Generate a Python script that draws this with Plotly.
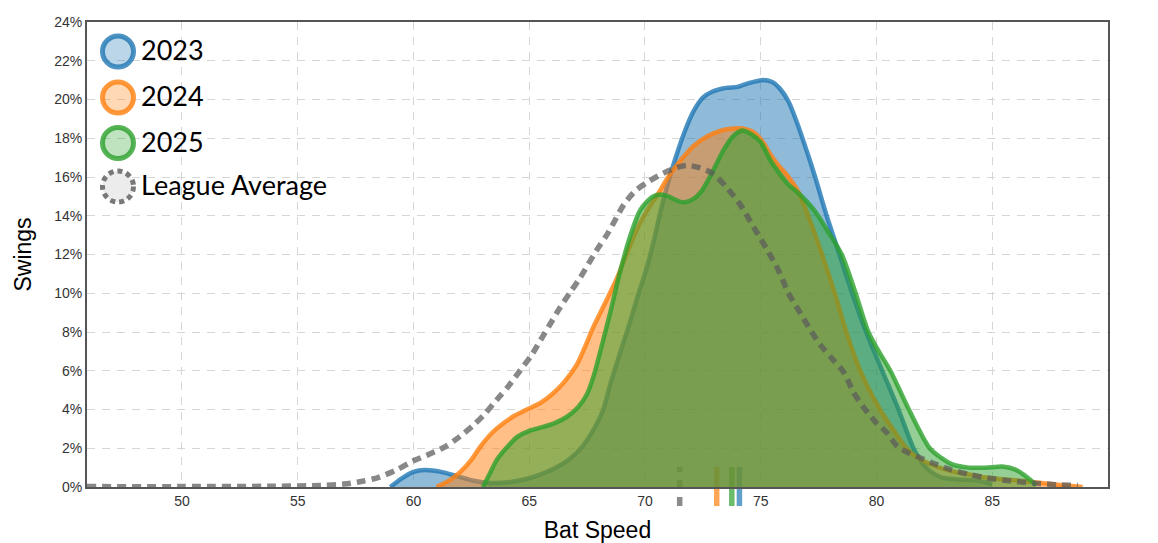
import plotly.graph_objects as go

# ---------------- data ----------------
series_names = ["2023", "2024", "2025"]
league_name = "League Average"

bat_speed_2023 = [59.0, 59.5, 60.0, 60.5, 61.2, 61.9, 62.6, 63.2, 64.2, 65.0, 65.6, 66.3, 66.8, 67.3,
                  67.75, 68.2, 68.5, 69.0, 69.35, 69.7, 70.1, 70.4, 70.65, 70.95, 71.3, 71.7, 72.1,
                  72.5, 72.9, 73.5, 74.0, 74.5, 75.05, 75.5, 75.8, 76.2, 76.6, 77.0, 77.35, 77.85,
                  78.4, 78.95, 79.55, 80.25, 80.95, 81.6, 82.0, 82.4, 82.8, 83.4, 84.0, 84.5, 85.0]
swings_2023 = [0.0, 0.45, 0.78, 0.88, 0.78, 0.55, 0.32, 0.22, 0.26, 0.45, 0.7, 1.1, 1.5, 2.1,
               2.9, 4.0, 5.3, 7.2, 8.5, 9.9, 11.4, 12.8, 14.1, 15.5, 16.9, 18.3, 19.4,
               20.1, 20.4, 20.6, 20.65, 20.85, 21.0, 20.9, 20.6, 19.9, 18.7, 17.3, 16.0, 14.0,
               12.0, 10.0, 8.0, 6.0, 4.0, 2.0, 1.2, 0.75, 0.5, 0.4, 0.36, 0.3, 0.15]

bat_speed_2024 = [61.0, 61.5, 62.0, 62.5, 62.9, 63.4, 63.9, 64.4, 64.9, 65.5, 66.0, 66.5, 67.05, 67.4,
                  67.75, 68.2, 68.8, 69.2, 69.65, 70.1, 70.6, 71.0, 71.5, 72.1, 72.7, 73.3, 73.8,
                  74.2, 74.7, 75.1, 75.4, 75.7, 76.2, 76.6, 77.05, 77.65, 78.2, 78.7, 79.3, 80.15,
                  80.7, 81.3, 81.8, 82.4, 83.0, 84.0, 85.0, 86.0, 86.8, 87.8, 88.9]
swings_2024 = [0.0, 0.3, 0.75, 1.4, 2.1, 2.8, 3.3, 3.7, 4.0, 4.35, 4.8, 5.4, 6.3, 7.2,
               8.2, 9.3, 10.8, 12.0, 13.3, 14.3, 15.2, 16.0, 16.8, 17.6, 18.1, 18.4, 18.5,
               18.5, 18.3, 17.8, 17.2, 16.7, 16.0, 15.3, 14.0, 12.0, 10.0, 8.0, 6.0, 4.0,
               3.0, 2.0, 1.5, 1.15, 0.9, 0.65, 0.45, 0.35, 0.25, 0.12, 0.0]

bat_speed_2025 = [63.0, 63.3, 63.6, 64.0, 64.5, 65.0, 65.6, 66.1, 66.6, 67.1, 67.5, 67.8, 68.2, 68.5,
                  68.9, 69.35, 69.8, 70.35, 70.7, 71.0, 71.6, 72.0, 72.4, 72.8, 73.4, 73.8, 74.2,
                  74.6, 75.0, 75.4, 75.8, 76.2, 76.6, 77.3, 77.9, 78.5, 79.1, 79.65, 80.1, 80.6,
                  81.4, 82.3, 82.8, 83.3, 84.0, 84.7, 85.5, 86.0, 86.4, 86.9]
swings_2025 = [0.0, 0.7, 1.4, 2.0, 2.6, 2.9, 3.1, 3.3, 3.6, 4.1, 4.8, 5.8, 7.6, 9.0,
               11.0, 12.9, 14.3, 15.0, 15.1, 15.0, 14.7, 14.8, 15.2, 16.0, 17.4, 18.1, 18.4,
               18.2, 17.8, 16.9, 16.2, 15.6, 15.2, 14.3, 13.2, 12.0, 10.0, 8.0, 7.0, 6.0,
               4.0, 2.0, 1.5, 1.15, 1.0, 1.0, 1.05, 0.9, 0.6, 0.1]

bat_speed_league = [45.9, 50.0, 54.0, 56.0, 57.0, 57.8, 58.5, 59.3, 60.0, 60.7, 61.4, 62.0, 62.6, 63.1,
                    63.6, 64.1, 64.6, 65.1, 65.5, 65.9, 66.3, 66.8, 67.2, 67.9, 68.4, 69.1, 69.6,
                    70.2, 70.8, 71.4, 71.8, 72.3, 72.9, 73.5, 74.1, 74.7, 75.3, 75.8, 76.2, 76.7,
                    77.2, 77.6, 78.1, 78.6, 79.0, 79.45, 80.0, 80.45, 80.9, 81.4, 81.9, 82.5, 83.2,
                    84.0, 84.6, 85.5, 86.8, 87.8, 88.7]
swings_league = [0.02, 0.02, 0.04, 0.08, 0.15, 0.3, 0.5, 0.9, 1.35, 1.7, 2.1, 2.6, 3.2, 3.8,
                 4.5, 5.2, 6.0, 6.8, 7.6, 8.4, 9.2, 10.1, 10.8, 12.2, 13.1, 14.6, 15.3,
                 15.8, 16.2, 16.5, 16.6, 16.5, 16.2, 15.5, 14.6, 13.4, 12.2, 11.1, 10.0, 9.0,
                 8.0, 7.3, 6.6, 5.9, 4.9, 4.1, 3.3, 2.8, 2.1, 1.75, 1.5, 1.2, 0.9,
                 0.65, 0.5, 0.35, 0.2, 0.12, 0.08]

mean_names = ["2023", "2024", "2025", "League Average"]
mean_bat_speed = [74.08, 73.1, 73.75, 71.5]

x_tick_values = [50, 55, 60, 65, 70, 75, 80, 85]
y_tick_values = [0, 2, 4, 6, 8, 10, 12, 14, 16, 18, 20, 22, 24]
y_tick_labels = [f"{v}%" for v in y_tick_values]

# ---------------- styling ----------------
rgb = {"2023": (31, 119, 180), "2024": (255, 127, 14), "2025": (44, 160, 44),
       "League Average": (90, 90, 90)}


def rgba(name, a):
    r, g, b = rgb[name]
    return f"rgba({r},{g},{b},{a})"


series_x = [bat_speed_2023, bat_speed_2024, bat_speed_2025]
series_y = [swings_2023, swings_2024, swings_2025]

fig = go.Figure()
for name, xs, ys in zip(series_names, series_x, series_y):
    fig.add_trace(go.Scatter(
        x=xs, y=ys, name=name, mode="lines", fill="tozeroy",
        fillcolor=rgba(name, 0.5),
        line=dict(color=rgba(name, 0.8), width=4.5, shape="spline", smoothing=0.8),
        hoverinfo="skip", showlegend=False))

fig.add_trace(go.Scatter(
    x=bat_speed_league, y=swings_league, name=league_name, mode="lines",
    line=dict(color="rgba(90,90,90,0.72)", width=5.5, dash="9px,6px", shape="spline", smoothing=0.8),
    hoverinfo="skip", showlegend=False))

# mean markers below / across the x axis
shapes = []
for name, m in zip(mean_names, mean_bat_speed):
    is_league = name == league_name
    shapes.append(dict(
        type="line", xref="x", yref="paper", x0=m, x1=m, y0=-0.041, y1=0.043,
        layer="below",
        line=dict(color="rgba(90,90,90,0.7)" if is_league else rgba(name, 0.7),
                  width=5.5, dash="9px,8px" if is_league else "solid")))

# custom legend (big circles)
plot_l, plot_r, plot_t, plot_b = 87, 1108, 22, 487
pw, ph = plot_r - plot_l, plot_b - plot_t
legend_names = series_names + [league_name]
legend_centers_px = [51.5, 97.5, 143, 186.5]
annotations = []
for name, cy in zip(legend_names, legend_centers_px):
    yp = (plot_b - cy) / ph
    xp = (118 - plot_l) / pw
    is_league = name == league_name
    shapes.append(dict(
        type="circle", xref="paper", yref="paper", xsizemode="pixel", ysizemode="pixel",
        xanchor=xp, yanchor=yp, x0=-15.5, x1=15.5, y0=-15.5, y1=15.5, layer="above",
        fillcolor="#ececec" if is_league else rgba(name, 0.3),
        line=dict(color="rgba(120,120,120,1)" if is_league else rgba(name, 0.8), width=5,
                  dash="5px,4px" if is_league else "solid")))
    annotations.append(dict(
        xref="paper", yref="paper", x=(139 - plot_l) / pw, y=yp, yshift=2,
        xanchor="left", yanchor="middle",
        text=name, showarrow=False, font=dict(family="Lato, sans-serif", size=27, color="#000")))

axis_common = dict(showline=True, mirror=True, linecolor="#555555", linewidth=2,
                   showgrid=True, gridcolor="#d6d6d6", gridwidth=1.3, griddash="8px,7px",
                   zeroline=False, ticks="", automargin=False,
                   tickfont=dict(family="Liberation Sans, Arial, sans-serif", size=14, color="#333"))

title_font = dict(family="Liberation Sans, Arial, sans-serif", size=23, color="#000")

fig.update_layout(
    width=1158, height=543,
    margin=dict(l=plot_l, r=1158 - plot_r, t=plot_t, b=543 - plot_b),
    paper_bgcolor="white", plot_bgcolor="white",
    showlegend=False,
    shapes=shapes, annotations=annotations,
    xaxis=dict(range=[45.9, 90], tickvals=x_tick_values,
               title=dict(text="Bat Speed", standoff=15, font=title_font),
               **axis_common),
    yaxis=dict(range=[0, 24], tickvals=y_tick_values, ticktext=y_tick_labels,
               title=dict(text="Swings", standoff=16, font=title_font),
               **axis_common),
)

fig.write_html("out.html", config={"displayModeBar": False},
               post_script="document.body.style.margin='0';document.body.style.overflow='hidden';")
